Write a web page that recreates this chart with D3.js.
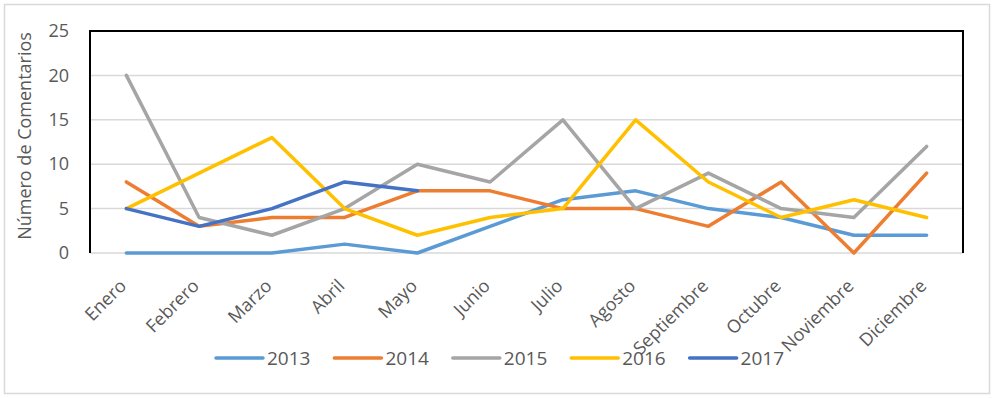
<!DOCTYPE html>
<html><head><meta charset="utf-8">
<script src="https://cdn.jsdelivr.net/npm/d3@7"></script>
<style>body{margin:0;background:#fff}svg{display:block}text{font-family:"Open Sans",sans-serif;fill:#595959}</style>
</head><body><svg id="c" width="996" height="398"></svg>
<script>
const months = ["Enero","Febrero","Marzo","Abril","Mayo","Junio","Julio","Agosto","Septiembre","Octubre","Noviembre","Diciembre"];
const years = ["2013","2014","2015","2016","2017"];
const v2013 = [0,0,0,1,0,3,6,7,5,4,2,2];
const v2014 = [8,3,4,4,7,7,5,5,3,8,0,9];
const v2015 = [20,4,2,5,10,8,15,5,9,5,4,12];
const v2016 = [5,9,13,5,2,4,5,15,8,4,6,4];
const v2017 = [5,3,5,8,7];
const yTicks = [0,5,10,15,20,25];
const colors = ["#5B9BD5","#ED7D31","#A5A5A5","#FFC000","#4472C4"];
const seriesVals = [v2013,v2014,v2015,v2016,v2017];

const svg = d3.select("#c");
const L = 90, R = 963, T = 31, B = 253;
const x = d3.scaleBand().domain(months).range([L, R]);
const y = d3.scaleLinear().domain([0, 25]).range([B, T]);
const FONT = '"Open Sans", sans-serif';

svg.append("rect").attr("x",4.5).attr("y",4.5).attr("width",985).attr("height",389)
  .attr("fill","#fff").attr("stroke","#D9D9D9").attr("stroke-width",1.5);

// gridlines
svg.append("g").selectAll("line").data(yTicks).join("line")
  .attr("x1",L).attr("x2",R).attr("y1",d=>y(d)).attr("y2",d=>y(d))
  .attr("stroke","#D9D9D9").attr("stroke-width",1.5);

// border left/top/right
svg.append("path").attr("d",`M${L},${B}V${T}H${R}V${B}`).attr("fill","none")
  .attr("stroke","#000").attr("stroke-width",2);

// y axis
const ya = svg.append("g").attr("transform",`translate(${L},0)`)
  .call(d3.axisLeft(y).tickValues(yTicks).tickSize(0).tickPadding(21));
ya.select(".domain").remove();
ya.selectAll("text").style("font-size","18px").attr("fill","#595959").style("font-family",FONT);

// x axis labels
const xa = svg.append("g").attr("transform",`translate(0,${B})`)
  .call(d3.axisBottom(x).tickSize(0).tickPadding(0));
xa.select(".domain").remove();
xa.selectAll("text").style("font-size","18px").attr("fill","#595959").style("font-family",FONT)
  .attr("text-anchor","end").attr("dy",0).attr("y",0)
  .attr("transform","translate(1,34) rotate(-45)");

// y title
svg.append("text").attr("transform","translate(31,136) rotate(-90)")
  .attr("text-anchor","middle").style("font-size","18px").style("font-family",FONT).text("Número de Comentarios");

// lines
const line = d3.line().x((d,i)=>x(months[i])+x.bandwidth()/2).y(d=>y(d));
svg.append("g").selectAll("path").data(seriesVals).join("path")
  .attr("d",d=>line(d)).attr("fill","none").attr("stroke",(d,i)=>colors[i])
  .attr("stroke-width",3.5).attr("stroke-linejoin","round").attr("stroke-linecap","round");

// legend
const lg = svg.append("g").selectAll("g").data(years).join("g")
  .attr("transform",(d,i)=>`translate(${216 + i*118.4},358)`);
lg.append("line").attr("x1",0).attr("x2",47).attr("stroke",(d,i)=>colors[i])
  .attr("stroke-width",3.5).attr("stroke-linecap","round");
lg.append("text").attr("x",51).attr("y",7).style("font-size","19px").style("font-family",FONT).text(d=>d);
</script></body></html>
